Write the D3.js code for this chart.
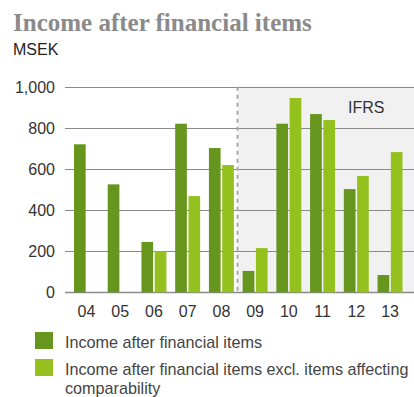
<!DOCTYPE html>
<html><head><meta charset="utf-8">
<script src="https://cdn.jsdelivr.net/npm/d3@7"></script>
<style>body{margin:0;background:#fff}svg{display:block}</style>
</head><body>
<svg id="c" width="414" height="397"></svg>
<script>
const years = ["04","05","06","07","08","09","10","11","12","13"];
const incomeAfterFinancial = [720, 525, 245, 820, 702, 104, 820, 867, 502, 84];
const incomeExclItems = [null, null, 200, 468, 619, 215, 945, 838, 566, 682];
const yTicks = [0, 200, 400, 600, 800, 1000];
const seriesNames = ["Income after financial items", "Income after financial items excl. items affecting comparability"];
const colors = ["#67961e", "#95c11f"];

const svg = d3.select("#c");
const font = "'Liberation Sans', Arial, Helvetica, sans-serif";

const y = d3.scaleLinear().domain([0, 1000]).range([292.3, 86.7]);
const x = d3.scaleBand().domain(years).range([69.6, 406.9]).paddingInner(0.26).paddingOuter(0.13);
const xs = d3.scaleBand().domain([0,1]).range([0, x.bandwidth()]).paddingInner(0.12);

// IFRS shaded region
const ifrsX = 237.5;
svg.append("rect").attr("x", ifrsX).attr("y", y(1000)).attr("width", 414 - ifrsX).attr("height", y(0) - y(1000)).attr("fill", "#f1f1f1");

// gridlines
svg.append("g").selectAll("line").data(yTicks).join("line")
  .attr("x1", 65).attr("x2", 414)
  .attr("y1", d => Math.round(y(d)) + 0.5).attr("y2", d => Math.round(y(d)) + 0.5)
  .attr("stroke", "#8a8a8a").attr("stroke-width", d => d === 0 ? 1.5 : 1);

// dashed separator
svg.append("line").attr("x1", ifrsX).attr("x2", ifrsX).attr("y1", y(1000)).attr("y2", y(0))
  .attr("stroke", "#aaaaaa").attr("stroke-width", 2).attr("stroke-dasharray", "4,4");

// bars
const data = years.map((yr, i) => ({yr, vals: [incomeAfterFinancial[i], incomeExclItems[i]]}));
const g = svg.append("g").selectAll("g").data(data).join("g").attr("transform", d => `translate(${x(d.yr)},0)`);
g.selectAll("rect").data(d => d.vals.map((v, k) => ({v, k})).filter(e => e.v != null)).join("rect")
  .attr("x", d => xs(d.k)).attr("width", xs.bandwidth())
  .attr("y", d => y(d.v)).attr("height", d => y(0) - y(d.v))
  .attr("fill", d => colors[d.k]);

// y axis labels
svg.append("g").selectAll("text").data(yTicks).join("text")
  .attr("x", 55).attr("y", d => y(d) + 6).attr("text-anchor", "end")
  .attr("font-family", font).attr("font-size", 16).attr("fill", "#333")
  .text(d => d3.format(",")(d));

// x axis labels
svg.append("g").selectAll("text").data(years).join("text")
  .attr("x", d => x(d) + x.bandwidth() / 2).attr("y", 317).attr("text-anchor", "middle")
  .attr("font-family", font).attr("font-size", 16).attr("fill", "#333")
  .text(d => d);

// IFRS label
svg.append("text").attr("x", 348).attr("y", 113).attr("font-family", font).attr("font-size", 16).attr("fill", "#333").text("IFRS");

// title
svg.append("text").attr("x", 13).attr("y", 31).attr("font-family", "'Liberation Serif', 'DejaVu Serif', serif")
  .attr("font-weight", "bold").attr("font-size", 25).attr("fill", "#8a8a8a").text("Income after financial items");
svg.append("text").attr("x", 13).attr("y", 55).attr("font-family", font).attr("font-size", 16).attr("fill", "#222").text("MSEK");

// legend
const leg = svg.append("g");
leg.append("rect").attr("x", 35).attr("y", 332).attr("width", 18).attr("height", 17).attr("fill", colors[0]);
leg.append("rect").attr("x", 35).attr("y", 359).attr("width", 18).attr("height", 17).attr("fill", colors[1]);
leg.append("text").attr("x", 65).attr("y", 348).attr("font-family", font).attr("font-size", 16.2).attr("fill", "#444").text(seriesNames[0]);
const t2 = leg.append("text").attr("font-family", font).attr("font-size", 16.2).attr("fill", "#444");
t2.append("tspan").attr("x", 65).attr("y", 375).text("Income after financial items excl. items affecting");
t2.append("tspan").attr("x", 65).attr("y", 393.5).text("comparability");
</script>
</body></html>
